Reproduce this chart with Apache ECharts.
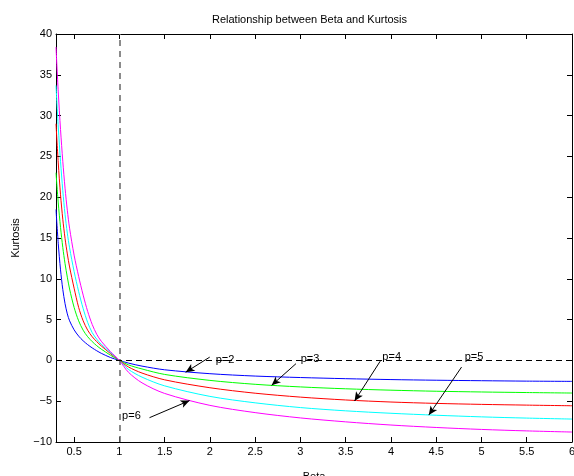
<!DOCTYPE html>
<html>
<head>
<meta charset="utf-8">
<title>Relationship between Beta and Kurtosis</title>
<script src="https://cdn.jsdelivr.net/npm/echarts@6/dist/echarts.min.js"></script>
<style>
  html, body { margin: 0; padding: 0; background: #fff; }
  #chart { width: 574px; height: 476px; }
</style>
</head>
<body>
<div id="chart"></div>
<script>
// values
var betaValues = [0.3, 0.325, 0.35, 0.375, 0.4, 0.425, 0.45, 0.5, 0.55, 0.6, 0.65, 0.7, 0.75, 0.8, 0.9, 1,
                  1.1, 1.25, 1.5, 2, 2.5, 3, 3.5, 4, 4.5, 5, 5.5, 6];
var kurtP2 = [18.5, 14.3, 11.1, 8.7, 6.95, 5.7, 4.85, 3.75, 2.98, 2.4, 1.93, 1.53, 1.18, 0.87, 0.36, 0,
              -0.33, -0.7, -1.15, -1.63, -1.92, -2.1, -2.24, -2.35, -2.43, -2.49, -2.54, -2.57];
var kurtP3 = [23, 19.3, 16.3, 13.85, 11.85, 10.2, 8.75, 6.5, 4.85, 3.7, 2.9, 2.3, 1.8, 1.38, 0.65, 0,
              -0.55, -1.05, -1.72, -2.45, -2.93, -3.25, -3.48, -3.65, -3.78, -3.87, -3.94, -4.0];
var kurtP4 = [29, 24.2, 20.3, 17.3, 14.95, 13.05, 11.45, 8.85, 6.5, 4.85, 3.7, 2.9, 2.3, 1.78, 0.85, 0,
              -0.8, -1.55, -2.38, -3.35, -4.02, -4.5, -4.85, -5.1, -5.27, -5.39, -5.48, -5.56];
var kurtP5 = [33.7, 28.6, 24.4, 20.8, 17.9, 15.6, 13.8, 10.9, 8.45, 6.35, 4.65, 3.4, 2.6, 1.98, 0.98, 0,
              -1.1, -2.05, -3.12, -4.41, -5.2, -5.78, -6.18, -6.48, -6.72, -6.92, -7.07, -7.19];
var kurtP6 = [38.4, 32.9, 28.3, 24.4, 21.1, 18.4, 16.2, 12.9, 10.3, 8.0, 6.0, 4.4, 3.2, 2.35, 1.1, 0,
              -1.45, -2.75, -4.05, -5.51, -6.4, -7.05, -7.53, -7.92, -8.22, -8.46, -8.64, -8.78];
var xTicks = [0.5, 1, 1.5, 2, 2.5, 3, 3.5, 4, 4.5, 5, 5.5, 6];

// annotation text spots and arrows [from, to]
var noteLabels = ['p=2', 'p=3', 'p=4', 'p=5', 'p=6'];
var notePos = [[2.064, 0.09], [3.003, 0.21], [3.905, 0.37], [4.814, 0.37], [1.03, -6.86]];
var arrowFrom = [[1.998, 0.40], [2.951, -0.40], [3.882, -0.09], [4.78, -0.82], [1.333, -7.02]];
var arrowTo = [[1.732, -1.45], [2.682, -3.06], [3.598, -4.98], [4.418, -6.70], [1.776, -4.92]];

var font = 'Liberation Sans, Arial, Helvetica, sans-serif';

function pairs(ys) {
    var out = [];
    for (var i = 0; i < betaValues.length; i++) {
        out.push([betaValues[i], ys[i]]);
    }
    return out;
}

function curve(name, ys, color) {
    return {
        name: name,
        type: 'line',
        data: pairs(ys),
        showSymbol: false,
        smooth: 0.3,
        lineStyle: { color: color, width: 1 },
        itemStyle: { color: color },
        silent: true,
        z: 3
    };
}

var arrows = [];
var notes = [];
for (var i = 0; i < noteLabels.length; i++) {
    arrows.push([{ coord: arrowFrom[i] }, { coord: arrowTo[i] }]);
    notes.push({ name: noteLabels[i], coord: notePos[i] });
}

var chart = echarts.init(document.getElementById('chart'));

var tickStyle = { show: true, inside: true, length: 5, lineStyle: { color: '#000', width: 1 } };
var lineAxis = { show: true, onZero: false, lineStyle: { color: '#000', width: 1 } };

option = {
    animation: false,
    backgroundColor: '#fff',
    textStyle: { fontFamily: font },
    title: {
        text: 'Relationship between Beta and Kurtosis',
        left: 212,
        top: 14,
        padding: 0,
        textStyle: { fontSize: 11, fontWeight: 'normal', color: '#000', fontFamily: font }
    },
    grid: { left: 56, top: 34, width: 516, height: 408, containLabel: false, outerBoundsMode: 'none' },
    xAxis: [{
        type: 'value',
        min: 0.3,
        max: 6,
        name: 'Beta',
        nameLocation: 'middle',
        nameGap: 29,
        nameTextStyle: { fontSize: 11, color: '#000', fontFamily: font },
        axisLine: lineAxis,
        axisTick: { show: true, inside: true, length: 5, customValues: xTicks, lineStyle: { color: '#000' } },
        axisLabel: { customValues: xTicks, fontSize: 11, color: '#000', margin: 4, fontFamily: font },
        splitLine: { show: false }
    }, {
        type: 'value',
        position: 'top',
        min: 0.3,
        max: 6,
        axisLine: lineAxis,
        axisTick: { show: true, inside: true, length: 5, customValues: xTicks, lineStyle: { color: '#000' } },
        axisLabel: { show: false },
        splitLine: { show: false }
    }],
    yAxis: [{
        type: 'value',
        min: -10,
        max: 40,
        interval: 5,
        name: 'Kurtosis',
        nameLocation: 'middle',
        nameGap: 35,
        nameTextStyle: { fontSize: 11, color: '#000', fontFamily: font },
        axisLine: lineAxis,
        axisTick: tickStyle,
        axisLabel: {
            fontSize: 11,
            color: '#000',
            margin: 4,
            fontFamily: font,
            formatter: function(v) { return String(v).replace('-', '\u2212'); }
        },
        splitLine: { show: false }
    }, {
        type: 'value',
        position: 'right',
        min: -10,
        max: 40,
        interval: 5,
        axisLine: lineAxis,
        axisTick: tickStyle,
        axisLabel: { show: false },
        splitLine: { show: false }
    }],
    series: [
        curve('p=2', kurtP2, '#0000ff'),
        curve('p=3', kurtP3, '#00ff00'),
        curve('p=4', kurtP4, '#ff0000'),
        curve('p=5', kurtP5, '#00ffff'),
        curve('p=6', kurtP6, '#ff00ff'),
        {
            // dashed reference lines
            type: 'line',
            data: [],
            silent: true,
            markLine: {
                silent: true,
                symbol: ['none', 'none'],
                label: { show: false },
                animation: false,
                data: [
                    { xAxis: 1, lineStyle: { color: '#666', width: 1.5, type: [6, 5] } },
                    { yAxis: 0, lineStyle: { color: '#000', width: 1, type: [6, 4] } }
                ]
            },
            z: 2
        },
        {
            // arrows and p labels
            type: 'line',
            data: [],
            silent: true,
            markLine: {
                silent: true,
                symbol: ['none', 'arrow'],
                symbolSize: [6, 9],
                label: { show: false },
                lineStyle: { color: '#000', width: 1, type: 'solid' },
                animation: false,
                data: arrows
            },
            markPoint: {
                silent: true,
                symbol: 'circle',
                symbolSize: 0,
                animation: false,
                label: {
                    show: true,
                    position: 'right',
                    distance: 0,
                    formatter: '{b}',
                    fontSize: 11,
                    color: '#000',
                    fontFamily: font
                },
                data: notes
            },
            z: 5
        }
    ]
};
chart.setOption(option);
</script>
</body>
</html>
